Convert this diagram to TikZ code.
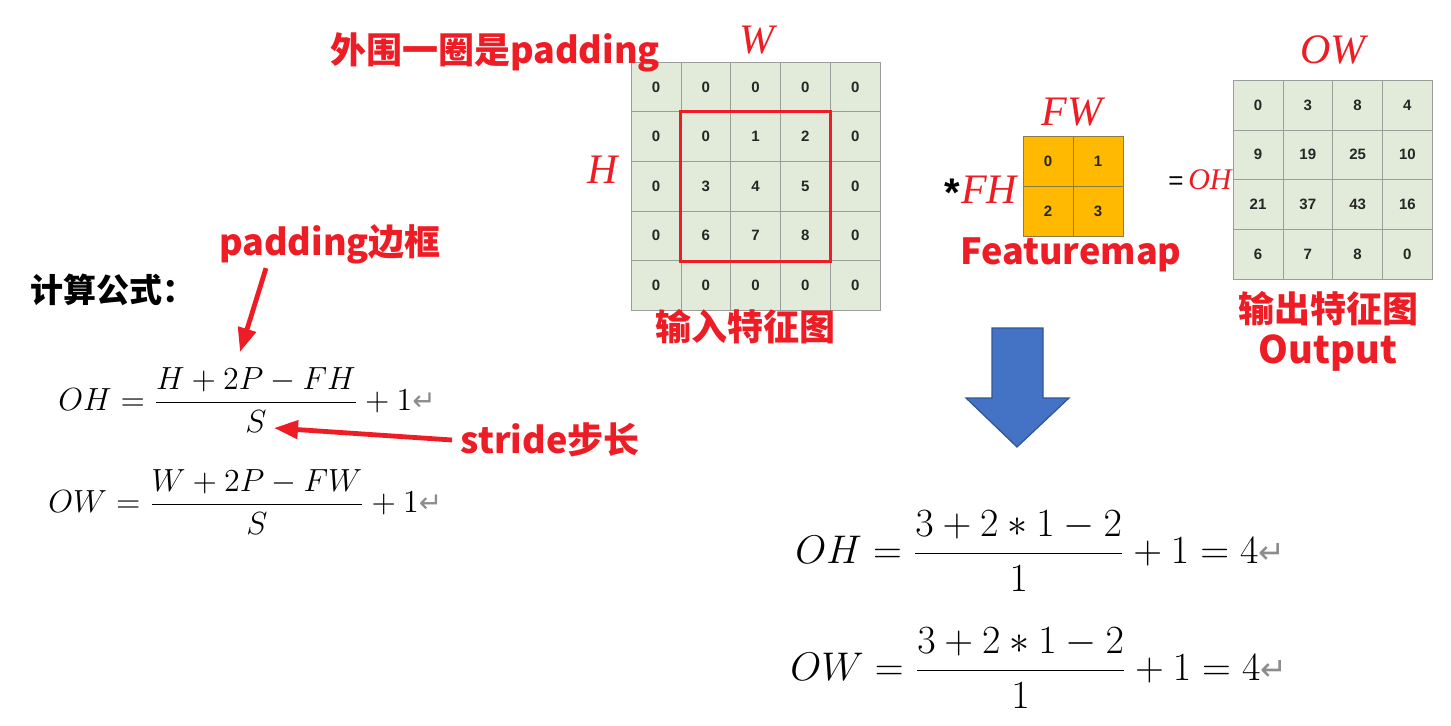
\documentclass[tikz,border=0pt]{standalone}
\usepackage{fix-cm}
\usepackage[no-math]{fontspec}
\setmainfont{Liberation Sans}
\newfontfamily\cjk{Noto Sans CJK SC}
\newfontfamily\handfont{Liberation Serif}
\newfontfamily\symfont{DejaVu Sans}
\usepackage{xcolor}
\usepackage{tikz}
\usetikzlibrary{arrows.meta,positioning}
\definecolor{noteRed}{HTML}{EE1D25}
\definecolor{cellGreen}{HTML}{E2EBD9}
\definecolor{cellLine}{HTML}{9A9E98}
\definecolor{kernOrange}{HTML}{FFB900}
\definecolor{kernLine}{HTML}{8C7A4A}
\definecolor{flowBlue}{HTML}{4472C4}
\definecolor{flowLine}{HTML}{2F5597}
\newcommand{\retmark}[1]{\textcolor{black!45}{\symfont\fontsize{#1}{#1}\selectfont ↵}}
\tikzset{
  cellbox/.style={
    draw=cellLine,
    fill=cellGreen,
    minimum size=24.9pt,
    inner sep=0pt,
    text=black!85,
    font=\rmfamily\bfseries\fontsize{7.5}{8}\selectfont
  },
  kernbox/.style={cellbox,draw=kernLine,fill=kernOrange},
  padframe/.style={draw=noteRed,line width=1.4pt},
  notelbl/.style={text=noteRed,inner sep=0pt,font=\cjk\bfseries\fontsize{18}{20}\selectfont},
  handlbl/.style={text=noteRed,inner sep=0pt,font=\handfont\itshape\fontsize{21}{21}\selectfont},
  eqlbl/.style={inner sep=0pt,anchor=west,font=\fontsize{16}{20}\selectfont},
  redflow/.style={-{Triangle[length=12pt,width=9pt]},draw=noteRed,line width=2.4pt},
  bigflow/.style={fill=flowBlue,draw=flowLine,line width=0.6pt}
}
\begin{document}
\begin{tikzpicture}[x=0.5pt,y=-0.5pt]
  \useasboundingbox (0,0) rectangle (1451,725);
  % input map with padding ring
  \foreach \row [count=\r from 0] in {{0,0,0,0,0},{0,0,1,2,0},{0,3,4,5,0},{0,6,7,8,0},{0,0,0,0,0}}
    \foreach \v [count=\c from 0] in \row
      \node[cellbox] (in\r\c) at (656+49.8*\c,87+49.6*\r) {\v};
  \draw[padframe] (in11.north west) rectangle (in33.south east);
  % kernel
  \foreach \row [count=\r from 0] in {{0,1},{2,3}}
    \foreach \v [count=\c from 0] in \row
      \node[kernbox] (k\r\c) at (1048+50*\c,161+50*\r) {\v};
  % output map
  \foreach \row [count=\r from 0] in {{0,3,8,4},{9,19,25,10},{21,37,43,16},{6,7,8,0}}
    \foreach \v [count=\c from 0] in \row
      \node[cellbox] (out\r\c) at (1258+49.8*\c,105+49.8*\r) {\v};

  % handwritten sizes
  \node[handlbl] (wlbl) at (757,40) {W};
  \node[handlbl] (hlbl) at (603,170) {H};
  \node[handlbl] (fwlbl) at (1072,112) {FW};
  \node[handlbl] (fhlbl) at (989,190) {FH};
  \node[handlbl] (owlbl) at (1333,50) {OW};
  \node[handlbl,anchor=east,font=\handfont\itshape\fontsize{15}{15}\selectfont] (ohlbl) at (1232,180) {OH};
  \node[inner sep=0pt,font=\bfseries\fontsize{20}{20}\selectfont] (star) at (952,193) {*};
  \node[inner sep=0pt,font=\fontsize{13}{13}\selectfont] (eqs) at (1176,183) {=};

  % red notes
  \node[notelbl] (padtop) at (495,52) {外围一圈是padding};
  \node[notelbl] (inlbl) at (745,327) {输入特征图};
  \node[notelbl] (featlbl) at (1071,255) {Featuremap};
  \node[notelbl] (outcn) at (1328,309) {输出特征图};
  \node[notelbl,font=\cjk\bfseries\fontsize{19}{20}\selectfont,below=4pt of outcn] (outen) {Output};
  \node[notelbl] (padlbl) at (330,244) {padding边框};
  \node[notelbl] (stridelbl) at (550,440) {stride步长};
  \node[inner sep=0pt,anchor=west,font=\cjk\bfseries\fontsize{16.5}{18}\selectfont] (calclbl) at (30,290) {计算公式：};

  % formulas
  \node[eqlbl] (fOH) at (58,400) {$\displaystyle OH=\frac{H+2P-FH}{S}+1$\retmark{14}};
  \node[eqlbl] (fOW) at (48,502) {$\displaystyle OW=\frac{W+2P-FW}{S}+1$\retmark{14}};
  \node[eqlbl,font=\fontsize{20}{24}\selectfont] (rOH) at (795,551) {$\displaystyle OH=\frac{3+2\ast1-2}{1}+1=4$\retmark{16}};
  \node[eqlbl,font=\fontsize{20}{24}\selectfont] (rOW) at (790,668) {$\displaystyle OW=\frac{3+2\ast1-2}{1}+1=4$\retmark{16}};

  % pointers
  \coordinate (padtip) at (240,352);
  \coordinate (stridetip) at (274,428);
  \draw[redflow] ([xshift=-32pt,yshift=-2pt]padlbl.south) -- (padtip);
  \draw[redflow] ([xshift=-4pt]stridelbl.west) -- (stridetip);

  % big down arrow
  \draw[bigflow] (992,328) -- (1043,328) -- (1043,398) -- (1069,398) -- (1017,447)
    -- (966,398) -- (992,398) -- cycle;
\end{tikzpicture}
\end{document}
